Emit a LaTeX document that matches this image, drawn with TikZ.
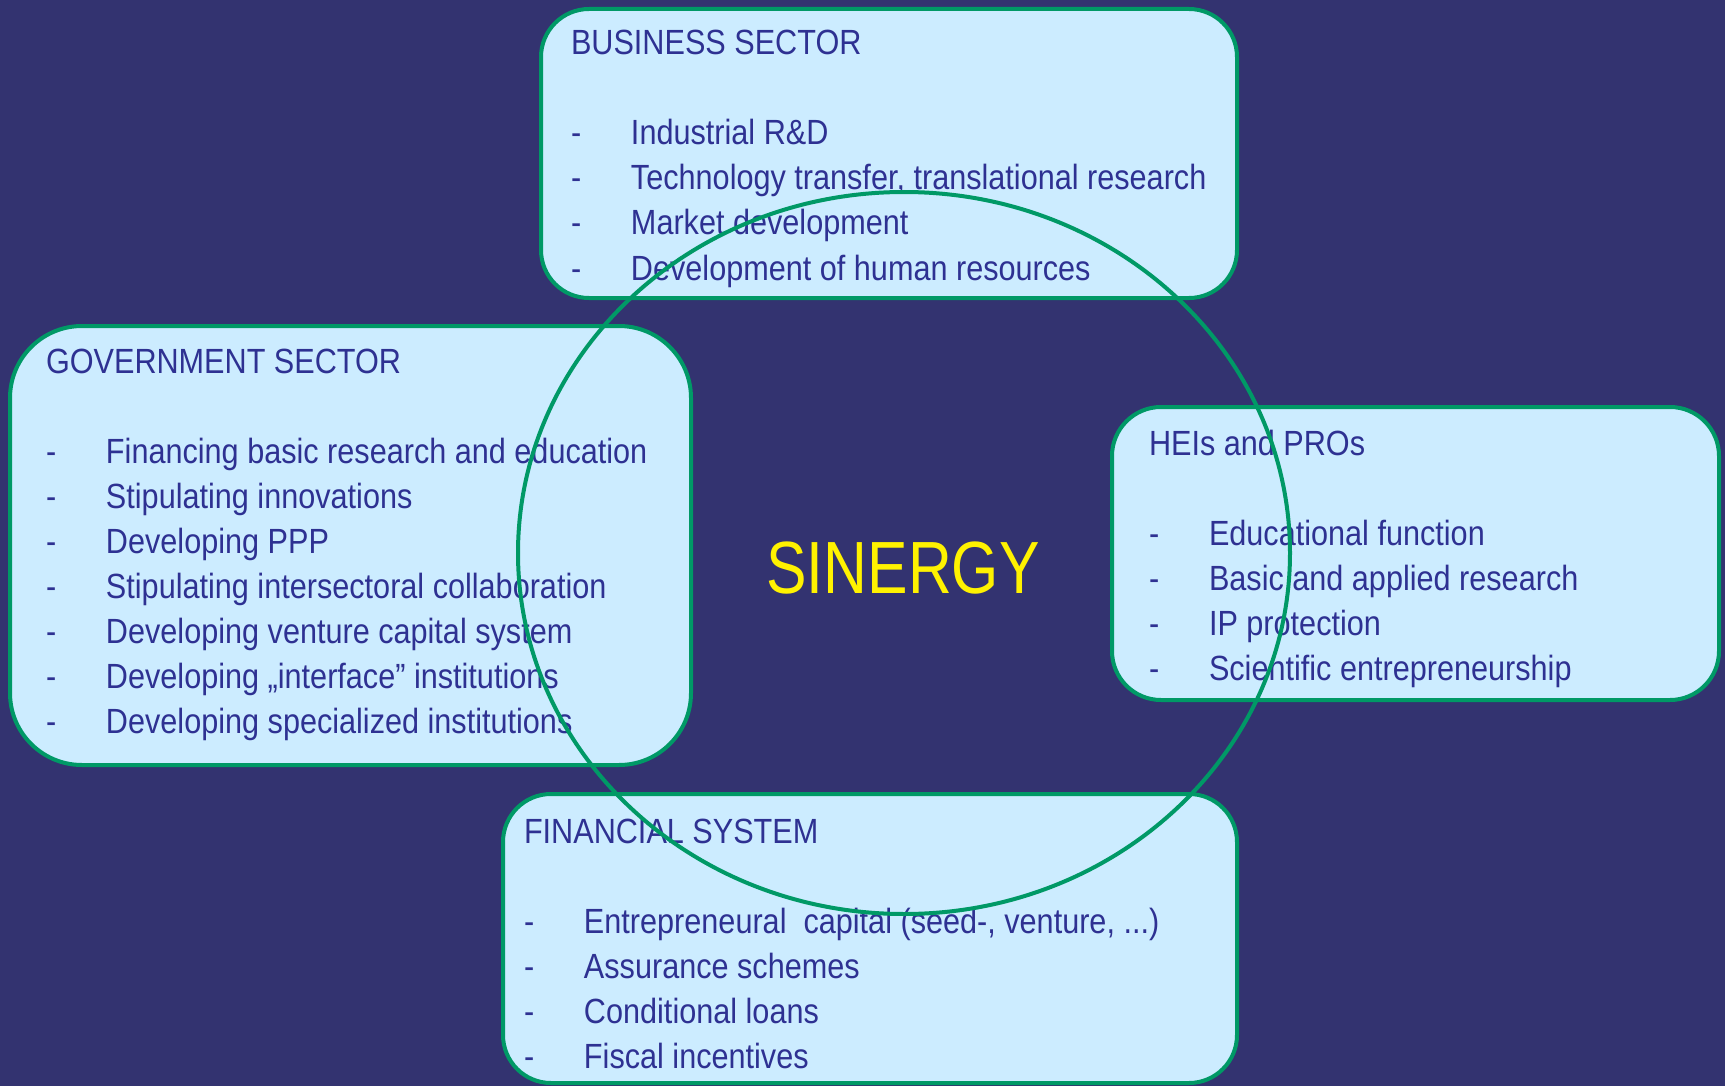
\documentclass[tikz,border=0pt]{standalone}
\usepackage{fontspec}
\setmainfont{Liberation Sans}[FakeStretch=0.875]
\newfontfamily\sinergyfont{Liberation Sans}[FakeStretch=0.82]
\definecolor{bgnavy}{RGB}{51,51,112}
\definecolor{boxcyan}{RGB}{204,236,255}
\definecolor{edgegreen}{RGB}{0,153,102}
\definecolor{textnavy}{RGB}{46,49,146}
\tikzset{every picture/.style={line width=4pt}}
\tikzset{
  sectorbox/.style={draw=edgegreen,fill=boxcyan,line width=4pt},
  sectortext/.style={anchor=base west,inner sep=0pt,text=textnavy,font=\fontsize{35}{42}\selectfont},
}
\newcommand{\itemdash}{\makebox[60pt][l]{-}}

\begin{document}
\begin{tikzpicture}[x=1pt,y=1pt,yscale=-1,xscale=1]
%Background
\fill [bgnavy] (0,0) rectangle (1725,1086);

%Rounded Rect [business]
\draw [sectorbox,rounded corners=48] (541,9) rectangle (1237,298);
%Rounded Rect [government]
\draw [sectorbox,rounded corners=72] (10,326) rectangle (691,765);
%Rounded Rect [heis]
\draw [sectorbox,rounded corners=49] (1112,407) rectangle (1719,700);
%Rounded Rect [financial]
\draw [sectorbox,rounded corners=48] (503,794) rectangle (1237,1083);

% Text Node
\draw (569,55) node [sectortext] (bustitle) {BUSINESS SECTOR};
\draw (569,145) node [sectortext] (bus1) {\itemdash Industrial R\&D};
\draw (569,190) node [sectortext] (bus2) {\itemdash Technology transfer, translational research};
\draw (569,235) node [sectortext] (bus3) {\itemdash Market development};
\draw (569,280) node [sectortext] (bus4) {\itemdash Development of human resources};

% Text Node
\draw (44,373) node [sectortext] (govtitle) {GOVERNMENT SECTOR};
\draw (44,463) node [sectortext] (gov1) {\itemdash Financing basic research and education};
\draw (44,508) node [sectortext] (gov2) {\itemdash Stipulating innovations};
\draw (44,553) node [sectortext] (gov3) {\itemdash Developing PPP};
\draw (44,598) node [sectortext] (gov4) {\itemdash Stipulating intersectoral collaboration};
\draw (44,643) node [sectortext] (gov5) {\itemdash Developing venture capital system};
\draw (44,688) node [sectortext] (gov6) {\itemdash Developing „interface” institutions};
\draw (44,733) node [sectortext] (gov7) {\itemdash Developing specialized institutions};

% Text Node
\draw (1147,455) node [sectortext] (heititle) {HEIs and PROs};
\draw (1147,545) node [sectortext] (hei1) {\itemdash Educational function};
\draw (1147,590) node [sectortext] (hei2) {\itemdash Basic and applied research};
\draw (1147,635) node [sectortext] (hei3) {\itemdash IP protection};
\draw (1147,680) node [sectortext] (hei4) {\itemdash Scientific entrepreneurship};

% Text Node
\draw (522,843) node [sectortext] (fintitle) {FINANCIAL SYSTEM};
\draw (522,933) node [sectortext] (fin1) {\itemdash Entrepreneural\ \ capital (seed-, venture, ...)};
\draw (522,978) node [sectortext] (fin2) {\itemdash Assurance schemes};
\draw (522,1023) node [sectortext] (fin3) {\itemdash Conditional loans};
\draw (522,1068) node [sectortext] (fin4) {\itemdash Fiscal incentives};

%Shape: Ellipse [synergy]
\draw [edgegreen,line width=4pt] (904,553) ellipse [x radius=386,y radius=361];

% Text Node
\draw (903,593) node [anchor=base,inner sep=0pt,text=yellow,font=\sinergyfont\fontsize{74}{80}\selectfont] (sinergy) {SINERGY};

\end{tikzpicture}
\end{document}
